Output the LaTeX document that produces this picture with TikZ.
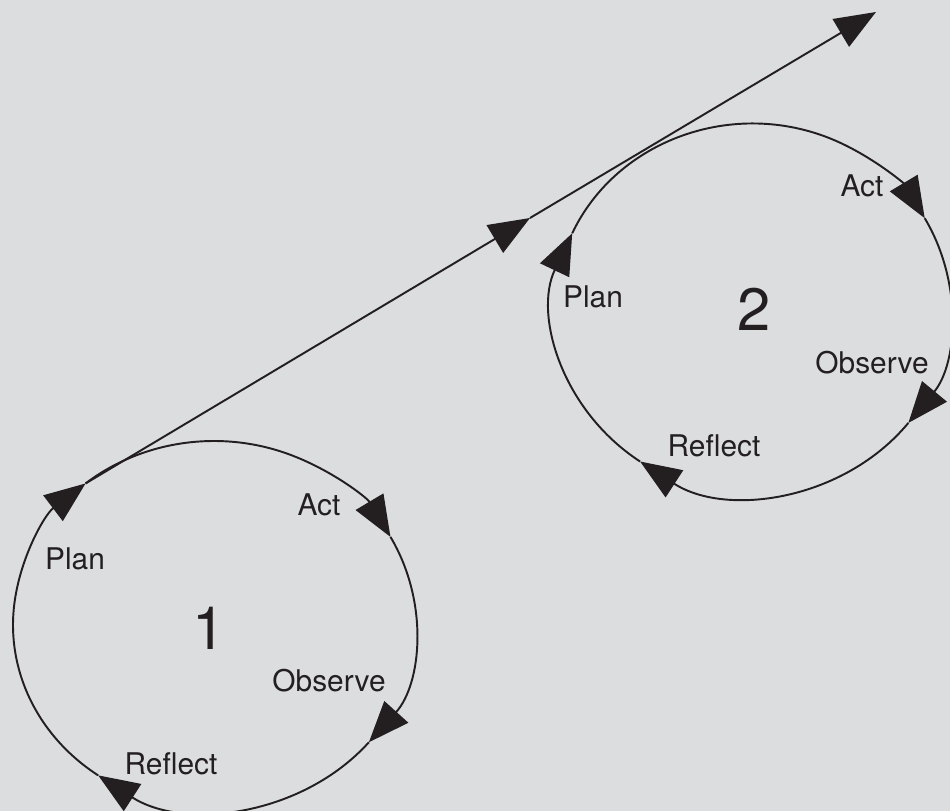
\documentclass[tikz,border=0pt]{standalone}
\usepackage{fontspec}
\setmainfont{TeX Gyre Heros}
\usepackage{tikz}
\usetikzlibrary{calc,arrows.meta}
\definecolor{bggray}{RGB}{220,221,223}
\definecolor{ink}{RGB}{35,31,32}
\tikzstyle{loop}     = [line width=1.1pt, draw=ink]
\tikzstyle{arrow}    = [loop, -{Triangle[length=0.82cm,width=0.64cm]}]
\tikzstyle{phase}    = [text=ink, inner sep=0pt, font=\fontsize{17}{20}\selectfont]
\tikzstyle{cyclenum} = [text=ink, inner sep=0pt, font=\fontsize{34}{38}\selectfont]

\begin{document}
\begin{tikzpicture}[x=0.02cm,y=0.02cm]
        \fill[bggray] (0,0) rectangle (950,811);
        \useasboundingbox (0,0) rectangle (950,811);

        % cycle 1
        \coordinate (c1) at (214,186);
        \coordinate (plan1) at ($(c1)+(129.7:201 and 184)$);
        \coordinate (act1) at ($(c1)+(28.6:201 and 184)$);
        \coordinate (obs1) at ($(c1)+(-39.6:201 and 184)$);
        \coordinate (refl1) at ($(c1)+(234.8:201 and 184)$);
        \draw[arrow] (plan1) arc[start angle=129.7, end angle=28.6, x radius=201, y radius=184];
        \draw[arrow] (act1) arc[start angle=28.6, end angle=-39.6, x radius=201, y radius=184];
        \draw[arrow] (obs1) arc[start angle=-39.6, end angle=-125.2, x radius=201, y radius=184];
        \draw[arrow] (refl1) arc[start angle=234.8, end angle=129.7, x radius=201, y radius=184];

        \node[phase] (actlab1) at (319,306) {Act};
        \node[phase] (planlab1) at (75,252) {Plan};
        \node[cyclenum] (num1) at (209,183) {1};
        \node[phase] (obslab1) at (329,130) {Observe};
        \node[phase] (refllab1) at (171,47) {Reflect};

        % cycle 2
        \coordinate (c2) at (752.5,502);
        \coordinate (plan2) at ($(c2)+(155.9:197.5 and 185.5)$);
        \coordinate (act2) at ($(c2)+(29.3:197.5 and 185.5)$);
        \coordinate (obs2) at ($(c2)+(-37.9:197.5 and 185.5)$);
        \coordinate (refl2) at ($(c2)+(235.3:197.5 and 185.5)$);
        \draw[arrow] (plan2) arc[start angle=155.9, end angle=29.3, x radius=197.5, y radius=185.5];
        \draw[arrow] (act2) arc[start angle=29.3, end angle=-37.9, x radius=197.5, y radius=185.5];
        \draw[arrow] (obs2) arc[start angle=-37.9, end angle=-124.7, x radius=197.5, y radius=185.5];
        \draw[arrow] (refl2) arc[start angle=235.3, end angle=155.9, x radius=197.5, y radius=185.5];

        \node[phase] (actlab2) at (862,625) {Act};
        \node[phase] (planlab2) at (593,514) {Plan};
        \node[cyclenum] (num2) at (754,502) {2};
        \node[phase] (obslab2) at (872,448) {Observe};
        \node[phase] (refllab2) at (714,365) {Reflect};

        % spiral line
        \coordinate (mid) at (530,593);
        \coordinate (top) at (876,799);
        \draw[arrow] (plan1) -- (mid);
        \draw[arrow] (mid) -- (top);
    \end{tikzpicture}
\end{document}
